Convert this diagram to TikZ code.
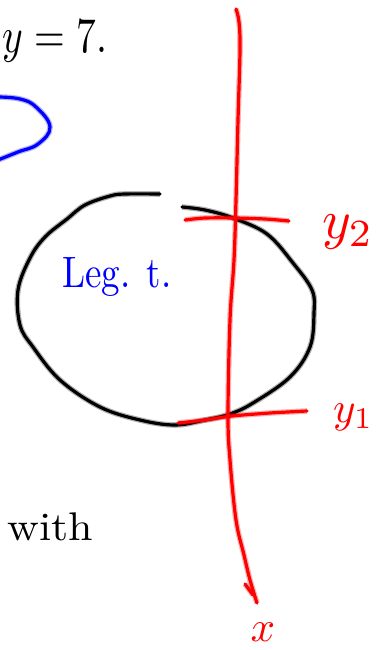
\documentclass[tikz,border=0pt]{standalone}
\begin{document}
\begin{tikzpicture}[x=1pt,y=-1pt,
  inkk/.style={draw=black,line width=3.2pt,line cap=round,line join=round,
    preaction={draw=black,opacity=0.3,line width=5.6pt}},
  inkr/.style={draw=red,line width=3.2pt,line cap=round,line join=round,
    preaction={draw=red,opacity=0.3,line width=5.6pt}},
  inkb/.style={draw=blue,line width=3.2pt,line cap=round,line join=round,
    preaction={draw=blue,opacity=0.3,line width=5.6pt}},
  lab/.style={inner sep=0pt,outer sep=0pt}]
\useasboundingbox (0,0) rectangle (382,650);
\clip (0,0) rectangle (382,650);
% top text
\node[lab,anchor=base east,xscale=3.95,yscale=5] (eq) at (107,53) {$y=7.$};
% blue curve
\draw[inkb] plot[smooth,tension=0.7] coordinates {(-2,97) (20,99) (36,107) (50,127) (38,144) (18,152) (-2,160)};
% black closed-ish curve
\draw[inkk] plot[smooth,tension=0.6] coordinates {(160,194) (125,194) (110,196) (85,205) (67,219) (45,237) (30,258) (18,290) (20,325) (33,347) (60,380) (100,407) (140,420) (175,425) (205,420) (230,414) (253,403) (290,377) (310,347) (314,313) (312,290) (293,263) (267,234) (233,218) (205,210) (182,207)};
% label inside
\node[lab,anchor=base west,text=blue,xscale=3.7,yscale=4.4] (leg) at (62,287) {Leg. t.};
% red axis
\draw[inkr] plot[smooth,tension=0.6] coordinates {(236,9) (239,22) (240,50) (238,120) (236,200) (234,260) (230,320) (228,415) (230,460) (236,520) (244,555) (250,580) (257,603)};
\draw[inkr] (245,584) -- (253,595);
% ticks
\draw[inkr] plot[smooth,tension=0.5] coordinates {(185,220) (205,218) (235,218) (265,219) (289,221)};
\draw[inkr] plot[smooth,tension=0.5] coordinates {(178,423) (205,420) (232,416) (270,413) (307,411)};
% red labels
\node[lab,anchor=base west,text=red,scale=5.5] (y2) at (322,238) {$y_2$};
\node[lab,anchor=base west,text=red,scale=4.3] (y1) at (333,422) {$y_1$};
\node[lab,text=red,scale=4.3] (xl) at (263,632) {$x$};
% bottom text
\node[lab,anchor=base east,xscale=4.4,yscale=4] (with) at (93,540) {with};
\end{tikzpicture}
\end{document}
